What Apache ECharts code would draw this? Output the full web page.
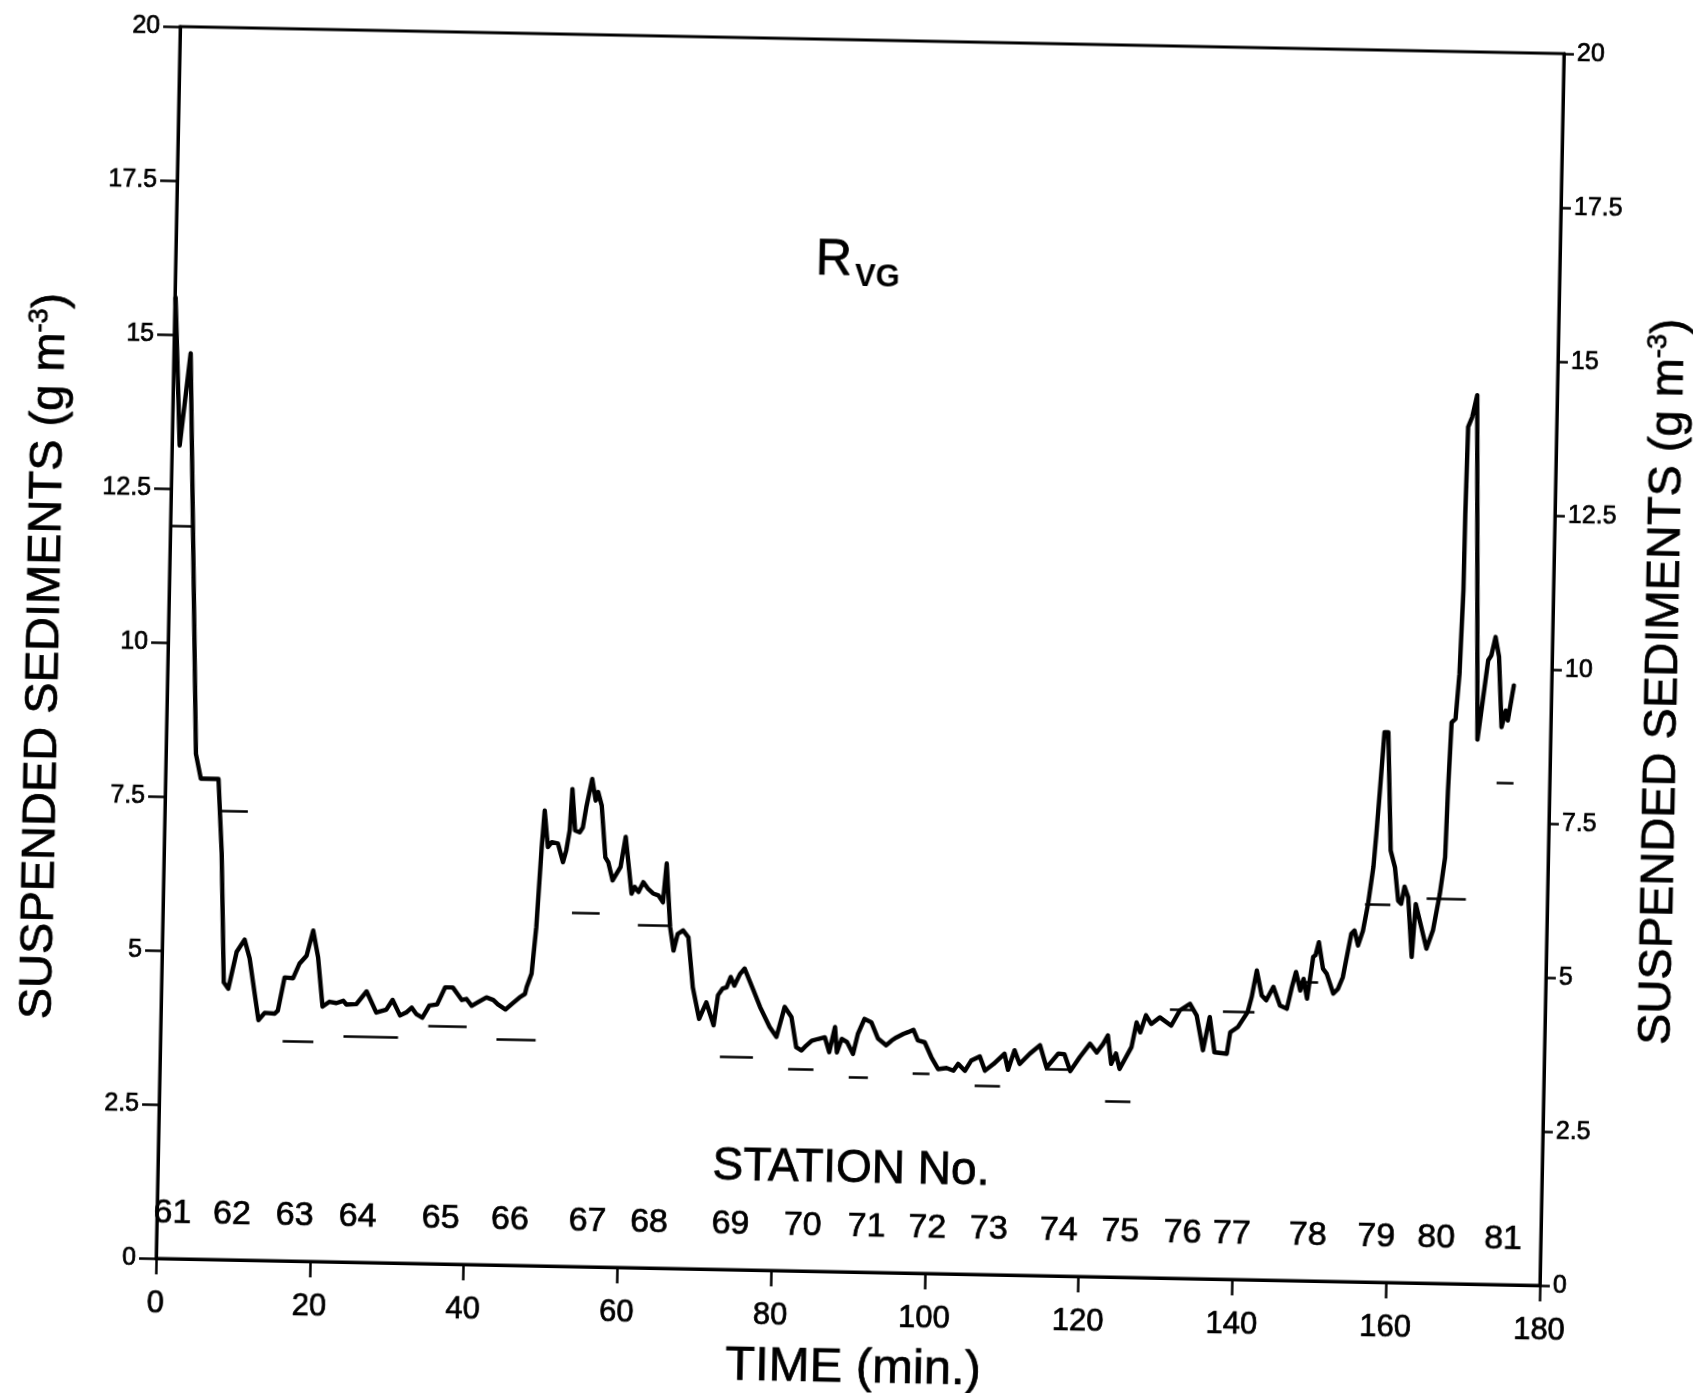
<!DOCTYPE html>
<html>
<head>
<meta charset="utf-8">
<script src="https://cdn.jsdelivr.net/npm/echarts@6/dist/echarts.min.js"></script>
<style>
  html, body { margin: 0; padding: 0; background: #ffffff; }
  /* the printed figure sits very slightly skewed on the page */
  #chart { width: 1693px; height: 1393px; transform: rotate(1.12deg); transform-origin: 860px 656px; }
</style>
</head>
<body>
<div id="chart"></div>
<script>
// Continuous record of suspended sediment concentration along the transect
const timeMin = [
  0.1, 1.0, 2.2, 3.9, 4.6, 6.9, 7.5, 8.1, 8.7, 9.7, 10.7, 11.4, 12.7, 13.5, 14.8, 15.2, 16.0, 17.1, 17.9, 18.8,
  19.6, 20.3, 21.0, 21.9, 22.8, 23.7, 24.1, 25.4, 26.7, 28.0, 29.3, 30.1, 31.1, 31.9, 32.6, 33.2, 34.0, 34.9, 35.9, 36.9,
  37.9, 39.1, 39.7, 40.4, 41.2, 42.3, 43.2, 43.8, 44.8, 45.7, 46.6, 47.3, 47.5, 48.1, 48.6, 49.1, 49.4, 49.9, 50.4, 51.2,
  51.9, 52.3, 52.7, 52.95, 53.4, 54.0, 54.4, 54.8, 55.5, 56.0, 56.3, 56.8, 57.4, 57.8, 58.4, 58.9, 59.4, 60.0, 60.9, 61.3,
  61.8, 62.4, 63.0, 63.7, 64.4, 65.0, 65.4, 66.0, 66.5, 67.0, 67.7, 68.4, 69.1, 70.0, 70.9, 71.9, 72.4, 73.0, 73.5, 74.0,
  74.5, 75.2, 75.8, 77.0, 77.9, 79.2, 80.1, 81.1, 82.0, 82.7, 83.4, 84.0, 84.7, 85.5, 86.4, 87.0, 87.7, 88.0, 88.6, 89.3,
  90.1, 90.7, 91.5, 92.4, 93.3, 94.4, 95.1, 95.7, 96.6, 97.2, 97.9, 98.5, 99.4, 100.3, 101.2, 102.3, 103.2, 103.8, 104.7, 105.5,
  106.6, 107.3, 108.4, 109.8, 110.3, 111.1, 111.8, 113.1, 114.4, 115.3, 116.8, 117.6, 118.4, 119.6, 120.9, 121.8, 122.6, 123.2, 123.7, 124.3,
  124.8, 126.3, 126.9, 127.4, 128.1, 128.8, 129.9, 131.4, 132.5, 133.8, 134.7, 135.6, 136.4, 137.1, 138.7, 139.1, 140.1, 141.3, 141.8, 142.4,
  143.1, 143.7, 144.6, 145.5, 146.4, 147.0, 147.5, 148.1, 148.5, 149.0, 149.7, 150.0, 150.4, 151.0, 151.5, 152.4, 153.0, 153.6, 154.6, 155.0,
  155.5, 156.1, 156.7, 157.3, 157.6, 157.95, 158.4, 158.9, 159.5, 160.1, 160.6, 161.0, 161.4, 161.9, 162.5, 162.9, 164.4, 165.2, 166.0, 166.6,
  166.8, 167.1, 167.6, 168.0, 168.3, 168.35, 168.5, 169.0, 169.6, 170.5, 171.1, 171.7, 172.1, 172.6, 173.1, 173.6, 174.1, 174.4, 175.1
];
const sediment = [
  15.6, 13.2, 14.7, 8.2, 7.8, 7.8, 6.6, 4.5, 4.4, 5.0, 5.2, 4.9, 3.9, 4.02, 4.01, 4.06, 4.6, 4.59, 4.83, 4.96,
  5.37, 4.94, 4.14, 4.22, 4.2, 4.24, 4.18, 4.19, 4.4, 4.06, 4.11, 4.27, 4.02, 4.07, 4.15, 4.05, 3.99, 4.19, 4.21, 4.49,
  4.49, 4.29, 4.31, 4.2, 4.26, 4.34, 4.3, 4.23, 4.15, 4.25, 4.35, 4.41, 4.52, 4.74, 5.5, 6.8, 7.39, 6.8, 6.88, 6.86,
  6.56, 6.75, 7.08, 7.75, 7.08, 7.05, 7.13, 7.46, 7.92, 7.57, 7.71, 7.49, 6.65, 6.57, 6.28, 6.39, 6.5, 6.99, 6.07, 6.18,
  6.1, 6.26, 6.16, 6.08, 6.05, 5.94, 6.57, 5.54, 5.16, 5.43, 5.49, 5.38, 4.57, 4.06, 4.33, 3.96, 4.45, 4.56, 4.58, 4.75,
  4.61, 4.8, 4.89, 4.54, 4.27, 3.95, 3.79, 4.28, 4.12, 3.63, 3.58, 3.66, 3.74, 3.77, 3.8, 3.56, 3.97, 3.56, 3.78, 3.73,
  3.54, 3.87, 4.11, 4.06, 3.8, 3.69, 3.77, 3.82, 3.88, 3.91, 3.95, 3.78, 3.75, 3.51, 3.32, 3.34, 3.3, 3.41, 3.3, 3.47,
  3.54, 3.31, 3.42, 3.59, 3.33, 3.65, 3.43, 3.6, 3.74, 3.38, 3.61, 3.6, 3.33, 3.56, 3.78, 3.64, 3.78, 3.92, 3.46, 3.63,
  3.38, 3.74, 4.14, 3.98, 4.26, 4.12, 4.23, 4.1, 4.35, 4.46, 4.27, 3.71, 4.25, 3.68, 3.66, 4.01, 4.1, 4.34, 4.59, 5.02,
  4.62, 4.54, 4.76, 4.46, 4.41, 4.76, 5.01, 4.71, 4.9, 4.58, 5.26, 5.29, 5.5, 5.07, 4.99, 4.67, 4.75, 4.94, 5.65, 5.7,
  5.46, 5.7, 6.14, 6.74, 7.28, 7.98, 8.93, 8.93, 7.01, 6.74, 6.2, 6.15, 6.43, 6.26, 5.29, 6.15, 5.43, 5.73, 6.32, 6.92,
  8.0, 9.11, 9.17, 9.9, 11.26, 12.5, 13.91, 14.07, 14.43, 8.84, 9.48, 10.13, 10.21, 10.51, 10.19, 9.05, 9.32, 9.16, 9.73
];

// Station numbers and the time each station was passed
const stationNo = ['61', '62', '63', '64', '65', '66', '67', '68', '69', '70', '71',
                   '72', '73', '74', '75', '76', '77', '78', '79', '80', '81'];
const stationTime = [2.0, 9.75, 17.9, 26.1, 36.9, 45.9, 56.0, 64.0, 74.6, 84.0, 92.3,
                     100.2, 108.2, 117.3, 125.3, 133.4, 139.8, 149.7, 158.6, 166.4, 175.1];

// Station mean concentrations, drawn as short horizontal bars
const meanStart = [0, 7.3, 15.9, 23.8, 34.8, 43.7, 53.2, 61.8, 72.8, 81.7, 89.6,
                   97.9, 106.0, 115.1, 123.0, 131.2, 138.1, 148.0, 156.3, 164.3, 173.1];
const meanEnd = [3.0, 10.8, 19.9, 30.9, 39.8, 48.8, 56.8, 65.8, 77.1, 85.0, 92.1,
                 100.1, 109.3, 118.3, 126.3, 134.2, 142.2, 150.4, 159.6, 169.4, 175.3];
const meanValue = [11.9, 7.28, 3.56, 3.66, 3.86, 3.66, 5.75, 5.57, 3.46, 3.27, 3.16,
                   3.25, 3.06, 3.35, 2.85, 4.36, 4.35, 4.85, 6.14, 6.24, 8.14];

// Axis ranges and tick steps
const timeRange = [0, 180];
const timeStep = 20;
const concRange = [0, 20];
const concStep = 2.5;

const FONT = "'Liberation Sans', Arial, Helvetica, sans-serif";
const INK = '#000000';
const STATION_ROW = 0.74;   // height (in axis units) of the station-number row
// a thin outline in the ink colour gives the lettering its heavier printed weight
const HEAVY = { textBorderColor: INK, textBorderWidth: 0.7 };

const chart = echarts.init(document.getElementById('chart'), null, { renderer: 'canvas' });

const yAxisCommon = {
  type: 'value',
  min: concRange[0],
  max: concRange[1],
  interval: concStep,
  splitLine: { show: false },
  axisLine: { show: true, lineStyle: { color: INK, width: 3 } },
  nameLocation: 'middle',
  name: '{a|SUSPENDED SEDIMENTS (g m}{s|-3}{a|)}'
};
const yNameRich = {
  a: Object.assign({ fontFamily: FONT, fontSize: 47, color: INK, lineHeight: 56 }, HEAVY),
  s: Object.assign({ fontFamily: FONT, fontSize: 27, color: INK, lineHeight: 56, padding: [0, 0, 22, 0] }, HEAVY)
};

chart.setOption({
  animation: false,
  backgroundColor: 'transparent',
  grid: {
    left: 168, top: 40, width: 1384, height: 1232,
    outerBoundsMode: 'none',
    containLabel: false,
    show: true, borderColor: INK, borderWidth: 3, backgroundColor: 'transparent'
  },
  xAxis: {
    type: 'value',
    min: timeRange[0],
    max: timeRange[1],
    interval: timeStep,
    position: 'bottom',
    splitLine: { show: false },
    axisLine: { show: true, lineStyle: { color: INK, width: 3 } },
    axisTick: { show: true, inside: false, length: 16, lineStyle: { color: INK, width: 2.5 } },
    axisLabel: Object.assign({ margin: 30, fontFamily: FONT, fontSize: 31, color: INK }, HEAVY),
    name: 'TIME (min.)',
    nameLocation: 'middle',
    nameGap: 72,
    nameTextStyle: Object.assign({ fontFamily: FONT, fontSize: 49, color: INK, padding: [0, 0, 0, 14] }, HEAVY)
  },
  yAxis: [
    Object.assign({}, yAxisCommon, {
      position: 'left',
      axisTick: { show: true, inside: false, length: 17, lineStyle: { color: INK, width: 2.5 } },
      axisLabel: Object.assign({ margin: 20, fontFamily: FONT, fontSize: 25, color: INK }, HEAVY),
      nameGap: 95,
      nameTextStyle: { color: INK, padding: [0, 32, 0, 0], rich: yNameRich }
    }),
    Object.assign({}, yAxisCommon, {
      position: 'right',
      axisTick: { show: true, inside: false, length: 10, lineStyle: { color: INK, width: 2.5 } },
      axisLabel: Object.assign({ margin: 13, fontFamily: FONT, fontSize: 25, color: INK }, HEAVY),
      nameGap: 84,
      nameTextStyle: { color: INK, padding: [0, 20, 0, 0], rich: yNameRich }
    })
  ],
  graphic: [
    { type: 'text', x: 826, y: 261, silent: true,
      style: { text: 'R', font: '50px ' + FONT, fill: INK, stroke: INK, lineWidth: 0.8,
               align: 'center', verticalAlign: 'middle', textAlign: 'center', textVerticalAlign: 'middle' } },
    { type: 'text', x: 870, y: 277, silent: true,
      style: { text: 'VG', font: 'bold 31px ' + FONT, fill: INK,
               align: 'center', verticalAlign: 'middle', textAlign: 'center', textVerticalAlign: 'middle' } },
    { type: 'text', x: 861, y: 1169, silent: true,
      style: { text: 'STATION No.', font: '46px ' + FONT, fill: INK, stroke: INK, lineWidth: 0.8,
               align: 'center', verticalAlign: 'middle', textAlign: 'center', textVerticalAlign: 'middle' } }
  ],
  series: [
    {
      name: 'concentration',
      type: 'line',
      xAxisIndex: 0,
      yAxisIndex: 0,
      data: timeMin.map((t, i) => [t, sediment[i]]),
      symbol: 'none',
      silent: true,
      lineStyle: { color: INK, width: 4.4, join: 'round', cap: 'round' }
    },
    {
      name: 'station mean',
      type: 'lines',
      coordinateSystem: 'cartesian2d',
      xAxisIndex: 0,
      yAxisIndex: 0,
      silent: true,
      data: meanStart.map((s, i) => ({ coords: [[s, meanValue[i]], [meanEnd[i], meanValue[i]]] })),
      lineStyle: { color: INK, width: 2.6, opacity: 1, curveness: 0 }
    },
    {
      name: 'stations',
      type: 'scatter',
      xAxisIndex: 0,
      yAxisIndex: 0,
      silent: true,
      symbolSize: 0,
      itemStyle: { color: INK, opacity: 1 },
      data: stationTime.map((t, i) => [t, STATION_ROW, stationNo[i]]),
      label: Object.assign({
        show: true,
        position: 'inside',
        formatter: p => p.value[2],
        fontFamily: FONT,
        fontSize: 34,
        color: INK,
        opacity: 1
      }, HEAVY)
    }
  ]
});
</script>
</body>
</html>
